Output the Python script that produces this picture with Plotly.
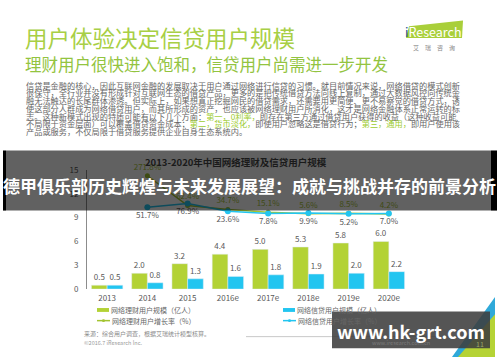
import plotly.graph_objects as go

W, H = 500, 362
def px(x): return x / W
def py(y): return 1 - y / H

FONT = "Noto Sans CJK SC"
GRAY = "#595959"
GREEN = "#b3d235"
BLUE = "#22c5f0"

# ---- data ----
years = ["2013", "2014", "2015", "2016e", "2017e", "2018e", "2019e", "2020e"]
wealth_users = [0.5, 2.0, 3.2, 4.4, 5.0, 5.3, 5.8, 6.0]
credit_users = [0.5, 0.8, 1.3, 1.6, 1.8, 1.9, 2.0, 2.2]
growth_years = ["2014", "2015", "2016e", "2017e", "2018e", "2019e", "2020e"]
wealth_growth = [271.8, 62.4, 34.7, 15.1, 5.6, 8.5, 4.2]
credit_growth = [51.7, 76.9, 23.6, 7.8, 9.9, 5.2, 7.0]
y_ticks = [0, 3, 6, 9, 12, 15]

series_names = ["网络理财用户规模（亿人）", "网络信贷用户规模（亿人）",
                "网络理财用户增长率（%）", "网络信贷用户增长率（%）"]

title = "用户体验决定信贷用户规模"
subtitle = "理财用户很快进入饱和，信贷用户尚需进一步开发"
chart_title = "2013-2020年中国网络理财及信贷用户规模"
banner = "德甲俱乐部历史辉煌与未来发展展望：成就与挑战并存的前景分析"
watermark = "www.hk-grt.com"
G = "<span style='color:#9ccb2e'>"
paragraph = [
    "信贷是金融的核心，因此互联网金融的发展取决于用户通过网络进行信贷的习惯。就目前情况来说，网络借贷的模式创新",
    "很保守，全行业并没有形成针对互联网生态的借贷产品，更多的是把传统借贷方法向线上复制，通过大数据风控向传统金",
    "融无法触达的长尾群体渗透。但实际上，如果想真正挖掘网民的借贷需求，还需要用更简便、更不易察觉的借贷方式，诱",
    "使这部分人群成为网络借贷用户，而其所形成的资产，也应该被网络理财用户所消化，这才是网络金融体系正常运转的标",
    "志。这种新模式出现的特质可能有以下几个方面：" + G + "第一，0利率，</span>即存在第三方通过借贷用户获得的收益（这种收益可能",
    "不局限于资金层面）可以覆盖借贷资金成本；" + G + "第二，货币淡化，</span>即使用户忽略这是借贷行为；" + G + "第三，通用，</span>即用户使用该",
    "产品或服务，不仅局限于借贷服务提供企业自身生态系统内。",
]
source = "来源：综合用户调查，根据艾瑞统计模型核算。"
copyright_ = "©2016.7 iResearch Inc."

fig = go.Figure()
fig.add_trace(go.Bar(x=years, y=wealth_users, name=series_names[0], marker_color=GREEN,
                     text=[f"{v:.1f}" for v in wealth_users], textposition="outside",
                     textfont=dict(size=8, color=GRAY, family=FONT), cliponaxis=False))
fig.add_trace(go.Bar(x=years, y=credit_users, name=series_names[1], marker_color=BLUE,
                     text=[f"{v:.1f}" for v in credit_users], textposition="outside",
                     textfont=dict(size=8, color=GRAY, family=FONT), cliponaxis=False))
fig.add_trace(go.Scatter(x=growth_years, y=wealth_growth, name=series_names[2], yaxis="y2",
                         mode="lines+markers+text", line=dict(color="#a3c431", width=1.5),
                         marker=dict(size=5, color="#a3c431"),
                         text=[f"{v:.1f}%" for v in wealth_growth], textposition="top center",
                         textfont=dict(size=8, color="#a8c43a", family=FONT), cliponaxis=False))
fig.add_trace(go.Scatter(x=growth_years, y=credit_growth, name=series_names[3], yaxis="y2",
                         mode="lines+markers+text", line=dict(color=BLUE, width=1.5),
                         marker=dict(size=6, color=BLUE),
                         text=[f"{v:.1f}%" for v in credit_growth], textposition="bottom center",
                         textfont=dict(size=8, color=GRAY, family=FONT), cliponaxis=False))

shapes = []
ann = []

def text(x, y, s, size, color, anchor="left", bold=False, yanchor="middle"):
    ann.append(dict(x=px(x), y=py(y), xref="paper", yref="paper", text=(f"<b>{s}</b>" if bold else s),
                    showarrow=False, xanchor=anchor, yanchor=yanchor, borderpad=0,
                    font=dict(size=size, color=color, family=FONT)))

# headings
text(24, 32, title, 22.5, "#a8cf45")
text(24, 60, subtitle, 16.5, "#93c440")
for i, line in enumerate(paragraph):
    text(25, 81 + 8 * i, line, 8.2, "#666666")

# logo
shapes.append(dict(type="path", path=f"M {px(409)} {py(21)} L {px(463)} {py(15)} L {px(462)} {py(33)} L {px(406)} {py(33)} Z",
                   xref="paper", yref="paper", fillcolor="#a9cf3a", line=dict(width=0), layer="below"))
text(404, 26, "<span style='color:#1d4f91'>i</span>Research", 12.5, "white")
text(434, 43, "艾　瑞　咨　询", 6, "#888888", anchor="center")

# legend (custom)
lx = [97, 283]
for k, col in enumerate([GREEN, BLUE]):
    x0 = lx[k]
    shapes.append(dict(type="rect", xref="paper", yref="paper", x0=px(x0), x1=px(x0 + 12),
                       y0=py(315.5), y1=py(311.5), fillcolor=col, line=dict(width=0)))
    text(x0 + 13, 313.5, series_names[k], 7, "#666666")
    lcol = "#a3c431" if k == 0 else BLUE
    shapes.append(dict(type="line", xref="paper", yref="paper", x0=px(x0), x1=px(x0 + 13),
                       y0=py(324.5), y1=py(324.5), line=dict(color=lcol, width=1.5)))
    shapes.append(dict(type="circle", xref="paper", yref="paper", x0=px(x0 + 5), x1=px(x0 + 8),
                       y0=py(326), y1=py(323), fillcolor=lcol, line=dict(width=0)))
    text(x0 + 14, 324.5, series_names[k + 2], 7, "#666666")

text(83, 337.5, source, 6, "#8a8a8a")
text(83, 347.5, copyright_, 5.5, "#9a9a9a")
shapes.append(dict(type="line", xref="paper", yref="paper", x0=px(246), x1=px(490), y0=py(341), y1=py(341),
                   line=dict(color="#c8c8c8", width=1)))

# corner decoration
shapes.append(dict(type="path", xref="paper", yref="paper",
                   path=f"M {px(495)} {py(300)} L {px(495)} {py(362)} L {px(452)} {py(362)} Z",
                   fillcolor="#2fa9d9", line=dict(width=0)))
shapes.append(dict(type="path", xref="paper", yref="paper",
                   path=f"M {px(495)} {py(318)} L {px(495)} {py(362)} L {px(458)} {py(362)} Z",
                   fillcolor="#b5d335", line=dict(width=0)))

# watermark box
text(371, 347.5, "www.iresearch.com.cn", 5.5, "#7a7a7a")
shapes.append(dict(type="rect", xref="paper", yref="paper", x0=px(332), x1=px(490), y0=py(353), y1=py(315),
                   fillcolor="rgba(62,62,62,0.88)", line=dict(width=0)))
text(411, 335, watermark, 18, "white", anchor="center", bold=True)
text(480, 349, "11", 7, "#9aa86a", anchor="center")

# banner overlay
shapes.append(dict(type="rect", xref="paper", yref="paper", x0=px(6), x1=px(491), y0=py(211), y1=py(149),
                   fillcolor="rgba(0,0,0,0.62)", line=dict(width=0)))
for a, b in [(3, 6), (491, 497)]:
    shapes.append(dict(type="rect", xref="paper", yref="paper", x0=px(a), x1=px(b), y0=py(211), y1=py(149),
                       fillcolor="black", line=dict(width=0)))
text(236, 161, chart_title, 9.5, "#1a1a1a", anchor="center", bold=True)
text(249, 185, banner, 17, "white", anchor="center", bold=True)

fig.update_layout(
    width=W, height=H, autosize=False,
    margin=dict(l=0, r=0, t=0, b=0),
    paper_bgcolor="white", plot_bgcolor="rgba(0,0,0,0)",
    showlegend=False, barmode="group", bargap=0.22, bargroupgap=0,
    font=dict(family=FONT, color=GRAY, size=8),
    xaxis=dict(domain=[px(87), px(409)], type="category", showgrid=False, showline=False,
               ticks="", tickfont=dict(size=8, color=GRAY), ticklabelstandoff=3, fixedrange=True),
    yaxis=dict(domain=[py(292), py(169)], range=[0, 15], tickvals=y_ticks, showgrid=False,
               zeroline=False, showline=True, linecolor="#8c8c8c", linewidth=1, ticks="",
               tickfont=dict(size=8, color=GRAY), ticklabelstandoff=6, fixedrange=True),
    yaxis2=dict(overlaying="y", range=[-523, 313], visible=False, fixedrange=True),
    shapes=shapes, annotations=ann,
)

fig.write_html("out.html", config={"displayModeBar": False, "staticPlot": True},
               post_script="document.body.style.margin='0';document.body.style.overflow='hidden';")
